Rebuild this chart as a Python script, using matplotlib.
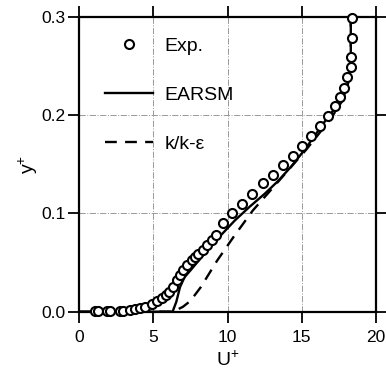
import matplotlib
matplotlib.use("Agg")
import matplotlib.pyplot as plt
from matplotlib.lines import Line2D

plt.rcParams['font.family'] = ['Liberation Sans', 'DejaVu Sans']
plt.rcParams['mathtext.fontset'] = 'custom'
plt.rcParams['mathtext.rm'] = 'Liberation Sans'
plt.rcParams['mathtext.it'] = 'Liberation Sans'

# experimental points (U+, y+)
exp_u = [1.08, 1.30, 1.86, 2.09, 2.76, 2.98, 3.43, 3.77, 4.11, 4.45,
         4.90, 5.23, 5.57, 5.86, 6.08, 6.35, 6.58, 6.80, 7.02, 7.25,
         7.59, 7.81, 8.03, 8.37, 8.60, 8.94, 9.23,
         9.72, 10.28, 10.95, 11.63, 12.41, 13.08, 13.76, 14.43, 15.02,
         15.64, 16.25, 16.79, 17.22, 17.58, 17.87, 18.03, 18.30, 18.30,
         18.40, 18.36]
exp_y = [0.001, 0.001, 0.001, 0.001, 0.001, 0.0012, 0.002, 0.003, 0.004, 0.005,
         0.0078, 0.011, 0.0136, 0.017, 0.020, 0.025, 0.032, 0.037, 0.042, 0.0475,
         0.0526, 0.056, 0.059, 0.063, 0.068, 0.073, 0.078,
         0.090, 0.100, 0.110, 0.120, 0.131, 0.139, 0.149, 0.159, 0.169,
         0.179, 0.189, 0.199, 0.209, 0.219, 0.228, 0.239, 0.249, 0.259,
         0.279, 0.2985]

# EARSM
earsm_u = [0.0, 6.3, 6.55, 6.8, 7.1, 7.5, 8.5, 9.5, 10.5, 11.5, 12.5, 13.4,
           14.3, 15.2, 16.1, 16.8, 17.4, 17.85, 18.1, 18.25, 18.3, 18.3]
earsm_y = [0.0, 0.0, 0.01, 0.025, 0.035, 0.042, 0.06, 0.077, 0.093, 0.107, 0.12, 0.133,
           0.148, 0.165, 0.184, 0.199, 0.21, 0.221, 0.232, 0.249, 0.26, 0.3]

# k/k-eps
keps_u = [0.0, 6.3, 6.6, 7.0, 7.5, 8.2, 9.3, 10.4, 11.7, 13.1, 14.2, 15.3,
          16.3, 17.1, 17.7, 18.05, 18.25, 18.3, 18.3]
keps_y = [0.0, 0.0, 0.002, 0.005, 0.011, 0.025, 0.052, 0.076, 0.103, 0.127, 0.146, 0.165,
          0.184, 0.2, 0.214, 0.227, 0.245, 0.26, 0.3]

xticks = [0, 5, 10, 15, 20]
yticks = [0.0, 0.1, 0.2, 0.3]
ytick_labels = ['0.0', '0.1', '0.2', '0.3']

fig = plt.figure(figsize=(3.86, 3.74), dpi=100)
ax = fig.add_axes([0.2047, 0.1666, 0.7695, 0.7879])

ax.plot(earsm_u, earsm_y, color='black', lw=1.7, label='EARSM', zorder=3)
ax.plot(keps_u, keps_y, color='black', lw=1.7, ls=(0, (5, 3.5)), label='k/k-\u03b5', zorder=3)
ax.plot(exp_u, exp_y, ls='none', marker='o', ms=6.5, mfc='white', mec='black',
        mew=1.5, clip_on=False, zorder=4)

ax.set_xlim(0, 20)
ax.set_ylim(0, 0.3)
ax.set_xticks(xticks)
ax.set_yticks(yticks)
ax.set_yticklabels(ytick_labels)
ax.tick_params(direction='out', length=8, width=1.3, labelsize=12.5,
               top=True, right=True)
ax.tick_params(axis='x', pad=5)
ax.tick_params(axis='y', pad=1.5)
for s in ax.spines.values():
    s.set_linewidth(1.6)
ax.grid(True, color='#999999', lw=0.7, ls='-.')

ax.set_xlabel('U$^{+}$', fontsize=14, labelpad=4)
ax.set_ylabel('y$^{+}$', fontsize=14, labelpad=1)

handles = [Line2D([], [], ls='none', marker='o', ms=6.5, mfc='white', mec='black', mew=1.5),
           Line2D([], [], color='black', lw=1.7),
           Line2D([], [], color='black', lw=1.7, ls=(0, (5, 3.5)))]
ax.legend(handles, ['Exp.', 'EARSM', 'k/k-\u03b5'], loc='upper left',
          bbox_to_anchor=(0.03, 0.99), frameon=False, fontsize=14,
          handlelength=2.45, labelspacing=1.62, handletextpad=0.6, numpoints=1)

fig.savefig('out.png', dpi=100)
